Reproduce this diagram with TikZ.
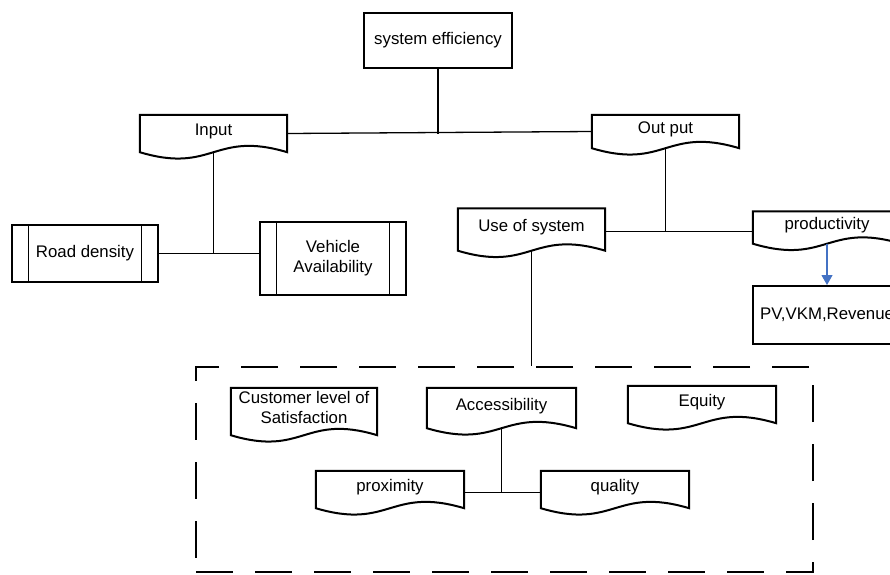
\documentclass[tikz,border=0pt]{standalone}
\usepackage{fontspec}
\setmainfont{Liberation Sans}
\usetikzlibrary{calc,arrows.meta}
\definecolor{arrowblue}{RGB}{68,114,196}
\newcommand{\wav}{22}
\newcommand{\docline}[1]{\draw[boxline] (#1.south west) -- (#1.north west) -- (#1.north east) -- (#1.south east) .. controls ($(#1.south)+(0,-\wav)$) and ($(#1.south)+(0,\wav)$) .. (#1.south west) -- cycle;}
\newcommand{\procline}[2]{\draw[boxline] (#1.south west) rectangle (#1.north east);
  \draw[innerline] ([xshift=#2]#1.north west) -- ([xshift=#2]#1.south west);
  \draw[innerline] ([xshift=-#2]#1.north east) -- ([xshift=-#2]#1.south east);}
\tikzset{
  boxline/.style={line width=2pt, line join=miter},
  innerline/.style={line width=1.1pt},
  conn/.style={line width=1.3pt},
  basebox/.style={rectangle, inner sep=0pt, align=center, font=\fontsize{16.8}{20}\selectfont},
  docbox/.style={basebox, draw=none, text depth=8pt},
  plainbox/.style={basebox, draw, line width=2pt},
  dashbox/.style={rectangle, draw, line width=2pt, dash pattern=on 37pt off 22pt, inner sep=0pt},
  bluearrow/.style={draw=arrowblue, line width=1.1pt, -{Triangle[length=10pt,width=11pt,fill=arrowblue]}}
}
\begin{document}
\begin{tikzpicture}[x=1pt,y=-1pt]
\useasboundingbox (0,0) rectangle (890,574);
\fill[white] (0,0) rectangle (890,574);

\node[plainbox, minimum width=148pt, minimum height=55pt] (se) at (438,40.5) {system efficiency};

\node[docbox, minimum width=147pt, minimum height=37pt] (inp) at (213.5,133.5) {Input};
\docline{inp}
\node[docbox, minimum width=147pt, minimum height=33pt] (out) at (665.5,131.5) {Out put};
\docline{out}

\node[basebox, minimum width=146pt, minimum height=57pt] (road) at (85,253.5) {Road density};
\procline{road}{17pt}
\node[basebox, minimum width=146pt, minimum height=73pt] (veh) at (333,258.5) {\fontsize{16.8}{21}\selectfont Vehicle\\Availability};
\procline{veh}{16.5pt}

\node[docbox, minimum width=147pt, minimum height=42pt] (use) at (531.5,229.5) {Use of system};
\docline{use}
\node[docbox, minimum width=148pt, minimum height=32pt] (prod) at (827,227.5) {productivity};
\docline{prod}
\node[plainbox, minimum width=148pt, minimum height=58pt] (pv) at (827,315) {PV,VKM,Revenue};

\node[dashbox, minimum width=617pt, minimum height=205pt] (grp) at (504.5,469.5) {};

\node[docbox, minimum width=146pt, minimum height=47pt] (cust) at (304,411.5) {\fontsize{16.8}{18}\selectfont Customer level of\\Satisfaction};
\docline{cust}
\node[docbox, minimum width=149pt, minimum height=40pt] (acc) at (501.5,408) {Accessibility};
\docline{acc}
\node[docbox, minimum width=148pt, minimum height=37pt] (eq) at (702,404.5) {Equity};
\docline{eq}
\node[docbox, minimum width=148pt, minimum height=37pt] (prox) at (390,489.5) {proximity};
\docline{prox}
\node[docbox, minimum width=148pt, minimum height=37pt] (qual) at (615,489.5) {quality};
\docline{qual}

% connectors
\coordinate (pj) at ([yshift=-3pt]prox.east);
\coordinate (qj) at ([yshift=-3pt]qual.west);
\coordinate (uj) at ([yshift=-2pt]use.east);
\draw[conn] (inp.east) -- (out.west);
\draw[conn] (se.south) -- (se.south |- inp.east);
\draw[conn] (road.east) -- (road.east -| veh.west);
\draw[conn] (inp.south) -- (inp.south |- road.east);
\draw[conn] (uj) -- (uj -| prod.west);
\draw[conn] (out.south) -- (out.south |- uj);
\draw[conn] (use.south) -- (use.south |- grp.north);
\draw[conn] (pj) -- (qj);
\draw[conn] (acc.south) -- (acc.south |- pj);
\draw[bluearrow] (prod.south) -- (pv.north);
\end{tikzpicture}
\end{document}
